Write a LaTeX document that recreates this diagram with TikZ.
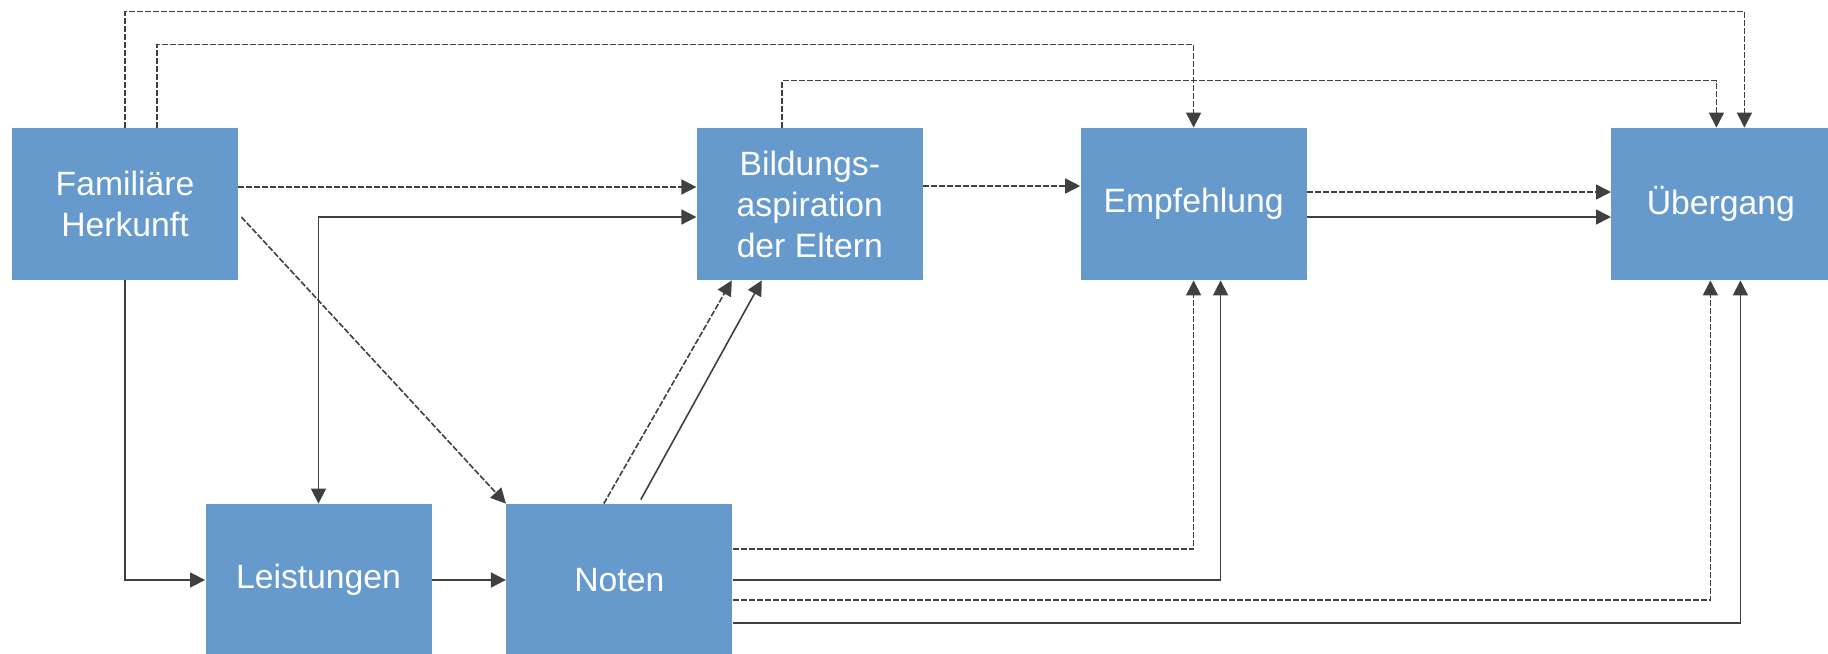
\documentclass[tikz,border=0pt]{standalone}
\usepackage{fontspec}
\setmainfont{Liberation Sans}
\usepackage{tikz}
\usetikzlibrary{shapes,arrows.meta,positioning,calc}
\definecolor{boxblue}{RGB}{102, 153, 204}
\definecolor{linegray}{RGB}{64, 64, 64}
\tikzstyle{factor} = [rectangle, draw=none, fill=boxblue, text=white, align=center, inner sep=0pt, minimum width=113pt, minimum height=76pt, font=\fontsize{16.85}{20.5}\selectfont]
\tikzstyle{tedge}  = [draw=linegray, line width=0.8pt, -{Triangle[length=7.5pt,width=7.5pt]}]
\tikzstyle{dedge}  = [tedge, dash pattern=on 3pt off 1pt]

\begin{document}
\begin{tikzpicture}[x=0.5pt, y=-0.5pt]
\useasboundingbox (0,0) rectangle (1828,654);

% upper row =============================
\node[factor] (fam) at (125,204) {Familiäre\\Herkunft};
\node[factor, right=229pt of fam] (bild) {Bildungs-\\aspiration\\der Eltern};
\node[factor, right=78.5pt of bild] (empf) {Empfehlung};
\node[factor, right=152pt of empf, minimum width=109.5pt] (ueber) {Übergang};

% lower row
\node[factor] (leist) at (318.5,580) {Leistungen};
\node[factor, right=37pt of leist] (noten) {Noten};

% edges over the top
\path[dedge] (fam.north) -- ++(0,-116) -| ([xshift=11.75pt]ueber.north);
\path[dedge] ([xshift=16pt]fam.north) -- ++(0,-83) -| (empf.north);
\path[dedge] ([xshift=-14pt]bild.north) -- ++(0,-47) -| ([xshift=-2.25pt]ueber.north);

% edges in the upper row
\path[dedge] ([yshift=8.5pt]fam.east) -- ([yshift=8.5pt]bild.west);
\path[dedge] ([yshift=9pt]bild.east) -- ([yshift=9pt]empf.west);
\path[dedge] ([yshift=6pt]empf.east) -- ([yshift=6pt]ueber.west);
\path[tedge] ([yshift=-6.5pt]empf.east) -- ([yshift=-6.5pt]ueber.west);

% edges between the rows
\path[tedge, {Triangle[length=7.5pt,width=7.5pt]}-{Triangle[length=7.5pt,width=7.5pt]}] (leist.north) |- ([yshift=-6.5pt]bild.west);
\path[dedge] ([xshift=1.5pt,yshift=-6.5pt]fam.east) -- (noten.north west);
\path[tedge] (fam.south) |- (leist.west);
\path[dedge] ([xshift=-7.75pt]noten.north) -- ([xshift=-39pt]bild.south);
\path[tedge] ([xshift=10.75pt,yshift=2pt]noten.north) -- ([xshift=-24pt]bild.south);

% edges in the lower row
\path[tedge] (leist) -- (noten);
\path[dedge] ([yshift=15.5pt]noten.east) -| (empf.south);
\path[tedge] (noten.east) -| ([xshift=13.5pt]empf.south);
\path[dedge] ([yshift=-10pt]noten.east) -| ([xshift=-5.25pt]ueber.south);
\path[tedge] ([yshift=-21.5pt]noten.east) -| ([xshift=9.75pt]ueber.south);

\end{tikzpicture}
\end{document}
